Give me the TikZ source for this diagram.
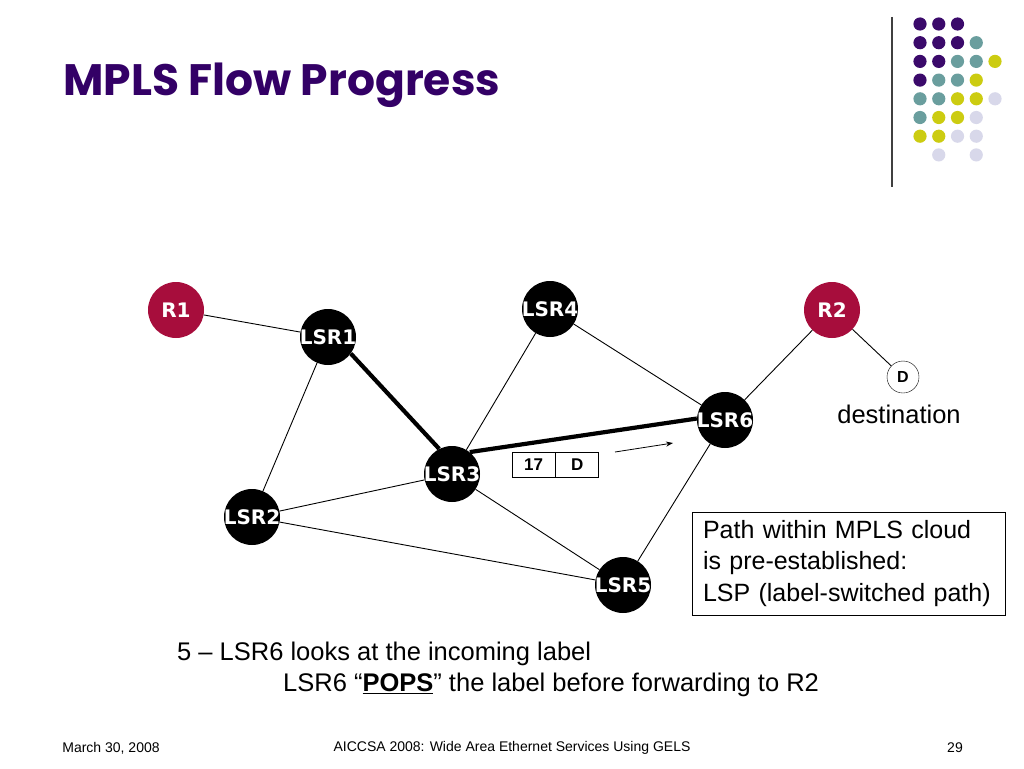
\documentclass[tikz,border=0pt]{standalone}
\usepackage{fontspec}
\setmainfont{Liberation Sans}
\newfontfamily\titlefont{Poppins}
\newfontfamily\nodefont{DejaVu Sans}
\usetikzlibrary{positioning, arrows.meta}

\definecolor{titlepurple}{RGB}{51,0,102}
\definecolor{routerred}{RGB}{167,13,60}
\definecolor{dotpurple}{RGB}{59,10,107}
\definecolor{dotteal}{RGB}{106,158,158}
\definecolor{dotyellow}{RGB}{204,204,17}
\definecolor{dotlilac}{RGB}{216,216,234}

\tikzset{
  lsr/.style={circle, fill=black, minimum size=56pt, inner sep=0pt, text=white,
    font=\nodefont\bfseries\fontsize{20}{20}\selectfont},
  edgerouter/.style={lsr, fill=routerred},
  host/.style={circle, draw, thin, minimum size=32pt, inner sep=0pt,
    font=\bfseries\fontsize{16}{16}\selectfont},
  link/.style={line width=0.9pt},
  lsp/.style={line width=4.2pt},
  pkt/.style={draw, line width=0.8pt, minimum width=43pt, minimum height=25pt,
    inner sep=0pt, font=\bfseries\fontsize{17}{17}\selectfont},
  body/.style={inner sep=0pt, font=\fontsize{25.5}{30}\selectfont},
  foot/.style={font=\fontsize{14}{14}\selectfont}
}

\newcommand{\rl}[1]{\makebox[0pt][c]{#1}}

\begin{document}
\begin{tikzpicture}[x=1pt, y=-1pt]
  \useasboundingbox (0,0) rectangle (1024,768);

  % title and corner decoration
  \node[anchor=base west, inner sep=0pt, text=titlepurple, font=\titlefont\bfseries\fontsize{44}{44}\selectfont] (title) at (63,95) {MPLS Flow Progress};
  \draw[line width=1.2pt, black!75] (892,17) -- (892,187);
  \foreach \c/\r/\col in {0/0/dotpurple, 1/0/dotpurple, 2/0/dotpurple,
      0/1/dotpurple, 1/1/dotpurple, 2/1/dotpurple, 3/1/dotteal,
      0/2/dotpurple, 1/2/dotpurple, 2/2/dotteal, 3/2/dotteal, 4/2/dotyellow,
      0/3/dotpurple, 1/3/dotteal, 2/3/dotteal, 3/3/dotyellow,
      0/4/dotteal, 1/4/dotteal, 2/4/dotyellow, 3/4/dotyellow, 4/4/dotlilac,
      0/5/dotteal, 1/5/dotyellow, 2/5/dotyellow, 3/5/dotlilac,
      0/6/dotyellow, 1/6/dotyellow, 2/6/dotlilac, 3/6/dotlilac,
      1/7/dotlilac, 3/7/dotlilac}
    \fill[\col] ({920+18.75*\c},{24+18.7*\r}) circle (6.6);

  % routers
  \node[edgerouter] (r1) at (176,310) {\rl{R1}};
  \node[edgerouter] (r2) at (832,310) {\rl{R2}};
  \node[host] (d) at (903,377) {D};
  \node[font=\fontsize{25.5}{25.5}\selectfont] (dest) at (899,414) {destination};

  \node[lsr] (lsr1) at (328,337) {\rl{LSR1}};
  \node[lsr] (lsr4) at (550,309) {\rl{LSR4}};
  \node[lsr] (lsr6) at (725,420) {\rl{LSR6}};
  \node[lsr] (lsr3) at (452,474) {\rl{LSR3}};
  \node[lsr] (lsr2) at (252,517) {\rl{LSR2}};
  \node[lsr] (lsr5) at (623,585) {\rl{LSR5}};

  % links
  \draw[link] (r1) -- (lsr1);
  \draw[link] (lsr1) -- (lsr2);
  \draw[link] (lsr4) -- (lsr3);
  \draw[link] (lsr4) -- (lsr6);
  \draw[link] (r2) -- (lsr6);
  \draw[link] (r2) -- (d);
  \draw[link] (lsr3) -- (lsr2);
  \draw[link] (lsr3) -- (lsr5);
  \draw[link] (lsr2) -- (lsr5);
  \draw[link] (lsr6) -- (lsr5);
  \draw[lsp] (lsr1.-36) -- (lsr3.117);
  \draw[lsp] (lsr3.51) -- (lsr6.177);

  % label on the packet
  \node[pkt] (label) at (533.5,464.5) {17};
  \node[pkt, right=0pt of label] (dst) {D};
  \coordinate (arrS) at (615,452);
  \coordinate (arrE) at (673,443);
  \draw[-{Stealth[length=7pt,width=5pt]}, line width=0.8pt] (arrS) -- (arrE);

  % text
  \node[draw, line width=0.8pt, minimum height=103pt, text width=291pt, inner xsep=11pt,
        align=left, font=\fontsize{25}{31.5}\selectfont] (note) at (848.5,563.5)
        {Path within MPLS cloud\\is pre-established:\\LSP (label-switched path)};
  \node[anchor=west, body] (step) at (177,654) {5 -- LSR6 looks at the incoming label};
  \node[anchor=west, body] (pops) at (283,685) {LSR6 ``\underline{\textbf{POPS}}'' the label before forwarding to R2};

  % footer
  \node[foot] (date) at (111,748) {March 30, 2008};
  \node[foot] (conf) at (512,748) {AICCSA 2008: Wide Area Ethernet Services Using GELS};
  \node[foot] (page) at (955,748) {29};
\end{tikzpicture}
\end{document}
